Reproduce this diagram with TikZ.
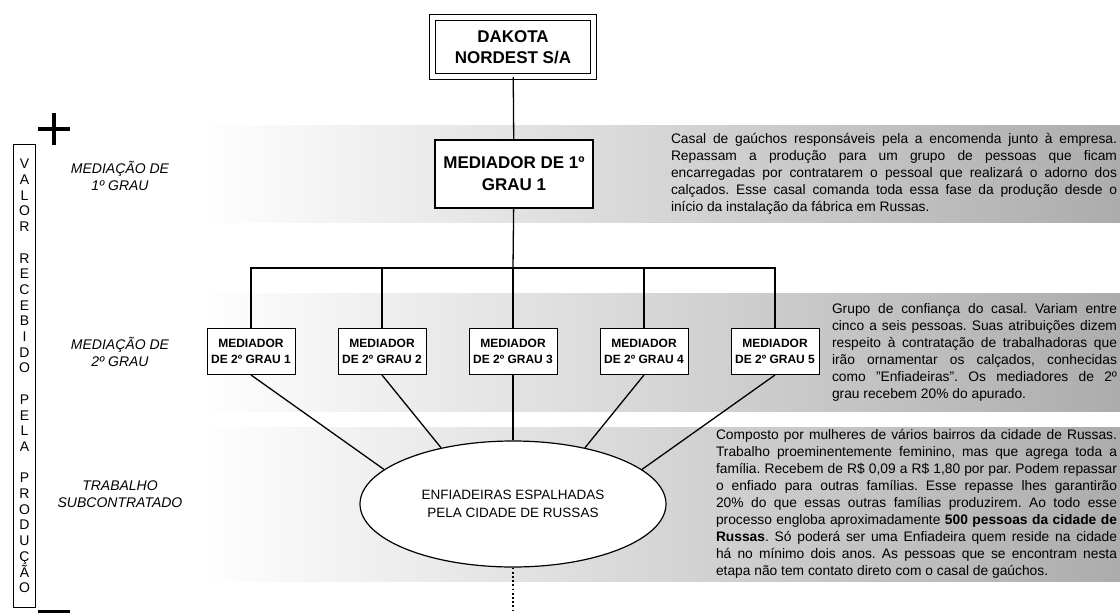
\documentclass[tikz,border=0pt]{standalone}
\usepackage{fontspec}
\setmainfont{Liberation Sans}
\usetikzlibrary{shapes.geometric}
\definecolor{bandgray}{RGB}{172,172,172}
\frenchspacing

\begin{document}
\begin{tikzpicture}[x=1pt,y=-1pt,thick,
  band/.style={left color=white,right color=bandgray},
  axisbox/.style={draw,line width=1pt,minimum width=22pt,minimum height=463pt,inner sep=0pt,align=center,font=\fontsize{14}{15.7}\selectfont},
  topbox/.style={draw,double,double distance=4.5pt,line width=1.3pt,minimum width=161pt,minimum height=59pt,align=center,font=\fontsize{17}{21}\selectfont\bfseries},
  firstbox/.style={draw,line width=1.8pt,fill=white,minimum width=158pt,minimum height=68pt,align=center,font=\fontsize{17}{22}\selectfont\bfseries},
  secbox/.style={draw,line width=1pt,fill=white,minimum width=88pt,minimum height=46pt,inner sep=1pt,align=center,font=\fontsize{12}{16}\selectfont\bfseries},
  ell/.style={ellipse,draw,line width=1.2pt,fill=white,minimum width=306pt,minimum height=126pt,inner sep=0pt,align=center,font=\fontsize{13.5}{18}\selectfont},
  levellabel/.style={align=center,font=\fontsize{14}{17}\selectfont\itshape},
  note/.style={align=justify,inner sep=0pt,font=\fontsize{13.8}{17}\selectfont},
  link/.style={line width=1.3pt}]
  \useasboundingbox (0,0) rectangle (1120,613);

  % Bands
  \shade[band] (200,125) rectangle (1120,222);
  \shade[band] (200,293) rectangle (1120,411);
  \shade[band] (200,427) rectangle (1120,581);

  % Value axis
  \node[axisbox] (V) at (24.5,376) {V\\A\\L\\O\\R\\[15.7pt]R\\E\\C\\E\\B\\I\\D\\O\\[15.7pt]P\\E\\L\\A\\[15.7pt]P\\R\\O\\D\\U\\Ç\\Ã\\O};
  \draw[line width=3.4pt] (38,129) -- (70,129) (54,113) -- (54,145);
  \draw[line width=3.4pt] (38,612) -- (70,612);

  % Level labels
  \node[levellabel] (L1) at (120,176) {MEDIAÇÃO DE\\1º GRAU};
  \node[levellabel] (L2) at (120,352) {MEDIAÇÃO DE\\2º GRAU};
  \node[levellabel] (L3) at (120,494) {TRABALHO\\SUBCONTRATADO};

  % Company and mediators
  \node[topbox] (D) at (513,47) {DAKOTA\\NORDEST S/A};
  \node[firstbox] (M1) at (514,174) {MEDIADOR DE 1º\\GRAU 1};
  \node[secbox] (S1) at (251,351.5) {MEDIADOR\\DE 2º GRAU 1};
  \node[secbox] (S2) at (382,351.5) {MEDIADOR\\DE 2º GRAU 2};
  \node[secbox] (S3) at (513,351.5) {MEDIADOR\\DE 2º GRAU 3};
  \node[secbox] (S4) at (644,351.5) {MEDIADOR\\DE 2º GRAU 4};
  \node[secbox] (S5) at (775,351.5) {MEDIADOR\\DE 2º GRAU 5};
  \node[ell] (E) at (513,504) {ENFIADEIRAS ESPALHADAS\\PELA CIDADE DE RUSSAS};

  % Notes
  \node[note,text width=446pt] (N1) at (894,174) {Casal de gaúchos responsáveis pela a encomenda junto à empresa.\linebreak
    Repassam a produção para um grupo de pessoas que ficam\linebreak
    encarregadas por contratarem o pessoal que realizará o adorno dos\linebreak
    calçados. Esse casal comanda toda essa fase da produção desde o\linebreak
    início da instalação da fábrica em Russas.};
  \node[note,text width=285pt] (N2) at (974.5,352) {Grupo de confiança do casal. Variam entre\linebreak
    cinco a seis pessoas. Suas atribuições dizem\linebreak
    respeito à contratação de trabalhadoras que\linebreak
    irão ornamentar os calçados, conhecidas\linebreak
    como "Enfiadeiras". Os mediadores de 2º\linebreak
    grau recebem 20\% do apurado.};
  \node[note,text width=401pt] (N3) at (916.5,504) {Composto por mulheres de vários bairros da cidade de Russas.\linebreak
    Trabalho proeminentemente feminino, mas que agrega toda a\linebreak
    família. Recebem de R\$ 0,09 a R\$ 1,80 por par. Podem repassar\linebreak
    o enfiado para outras famílias. Esse repasse lhes garantirão\linebreak
    20\% do que essas outras famílias produzirem. Ao todo esse\linebreak
    processo engloba aproximadamente \textbf{500 pessoas da cidade de}\linebreak
    \textbf{Russas}. Só poderá ser uma Enfiadeira quem reside na cidade\linebreak
    há no mínimo dois anos. As pessoas que se encontram nesta\linebreak
    etapa não tem contato direto com o casal de gaúchos.};

  % Edges
  \coordinate (bar) at (513,268);
  \coordinate (dotend) at (513,613);
  \draw[link] (D) -- (M1);
  \draw[link] (M1) -- (bar);
  \draw[link] (S1.north) |- (bar) -| (S5.north);
  \draw[link] (S2.north) -- (S2.north |- bar);
  \draw[link] (S3.north) -- (bar);
  \draw[link] (S4.north) -- (S4.north |- bar);
  \draw[link] (S1.south) -- (E.165);
  \draw[link] (S2.south) -- (E.142);
  \draw[link] (S3) -- (E);
  \draw[link] (S4.south) -- (E.38);
  \draw[link] (S5.south) -- (E.15);
  \draw[line width=1.8pt,dash pattern=on 1.8pt off 2.4pt] (E.south) -- (dotend);
\end{tikzpicture}
\end{document}
